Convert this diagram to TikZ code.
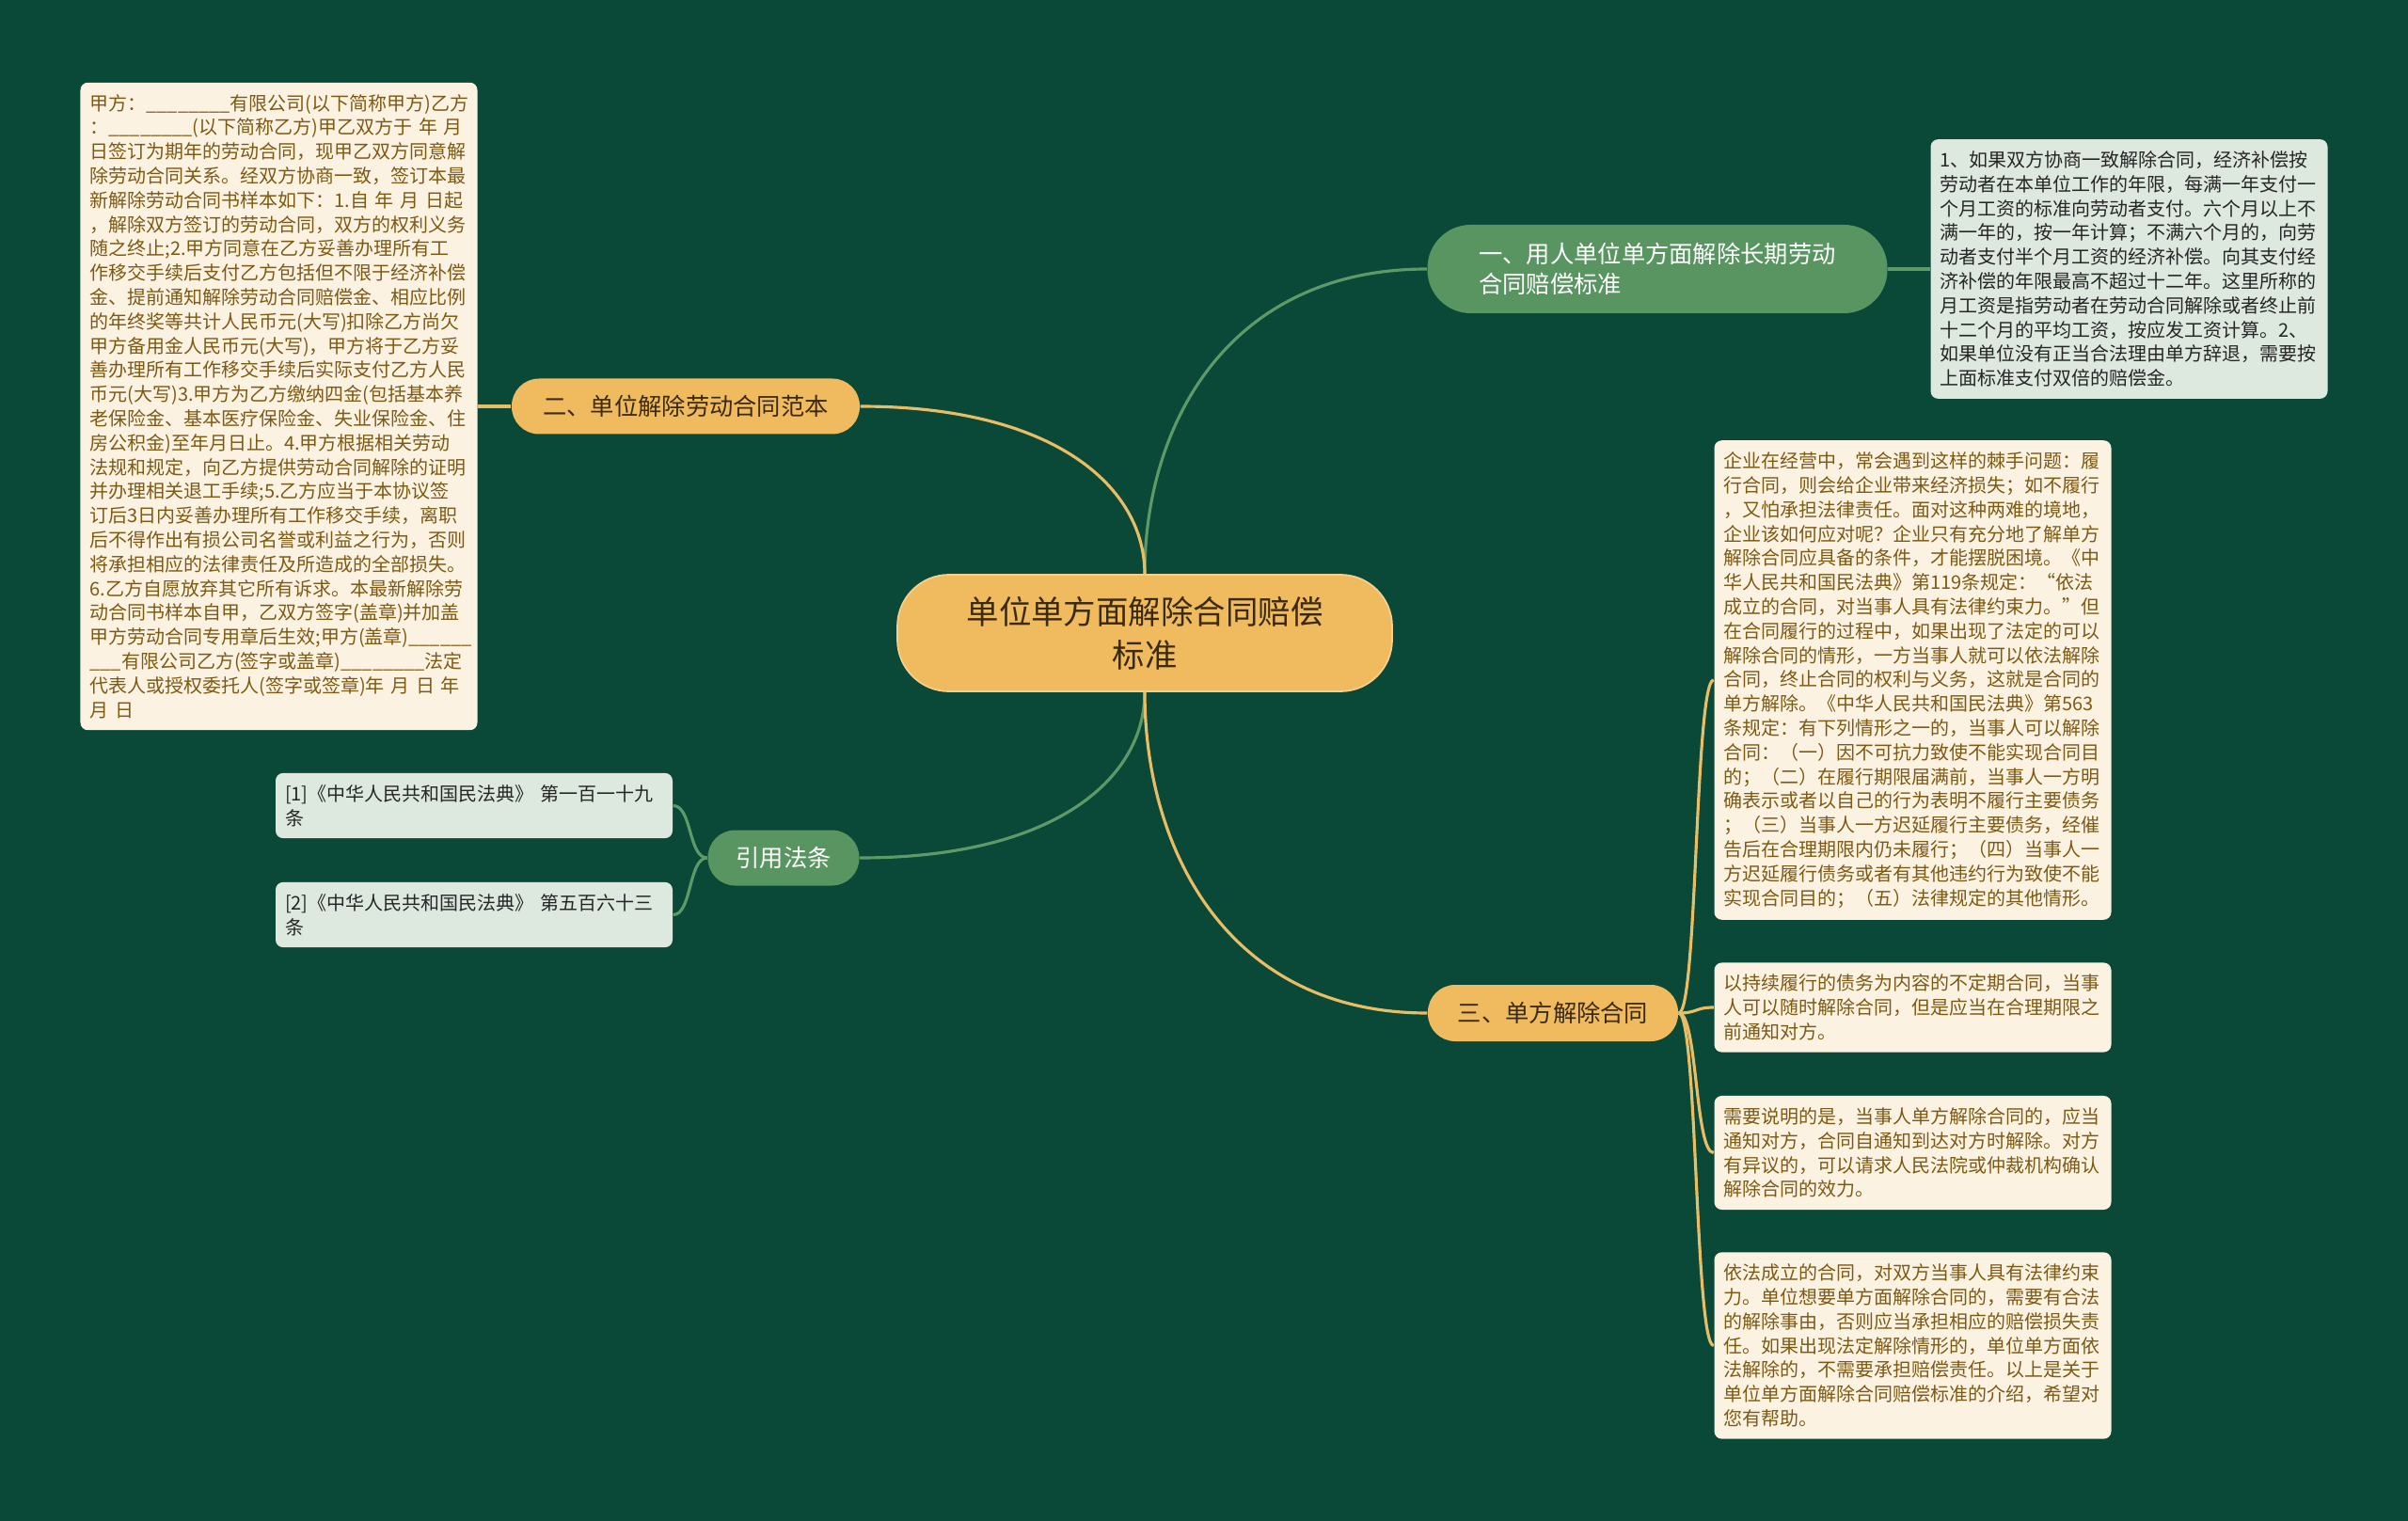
\documentclass[tikz,border=0pt]{standalone}
\usepackage{fontspec}
\newfontfamily\cjk{Noto Sans CJK SC}
\usetikzlibrary{positioning}

\definecolor{bgpaper}{HTML}{0A4838}
\definecolor{gold}{HTML}{F0BA5E}
\definecolor{goldedge}{HTML}{F4D08E}
\definecolor{goldline}{HTML}{E9BD66}
\definecolor{leafgreen}{HTML}{589561}
\definecolor{greenline}{HTML}{5E9A68}
\definecolor{cream}{HTML}{FCF2E2}
\definecolor{brownink}{HTML}{7D5A14}
\definecolor{mist}{HTML}{DDE8DF}
\definecolor{greyink}{HTML}{262626}
\definecolor{darkink}{HTML}{3A2A10}

\begin{document}
\begin{tikzpicture}[
    root/.style={fill=gold, draw=goldedge, line width=0.5pt, rounded corners=0.55cm,
        minimum width=5.26cm, minimum height=1.24cm, align=center, text=darkink,
        font=\cjk\fontsize{9.8}{13.1}\selectfont},
    goldtopic/.style={fill=gold, rounded corners=0.29cm, minimum height=0.59cm,
        text=darkink, font=\cjk\fontsize{7.2}{9.1}\selectfont},
    greentopic/.style={fill=leafgreen, rounded corners=0.29cm, minimum height=0.59cm,
        text=white, align=left, font=\cjk\fontsize{7.2}{9.1}\selectfont},
    creamleaf/.style={fill=cream, rounded corners=0.08cm, text=brownink, text width=4.02cm,
        align=left, inner xsep=0.1cm, inner ysep=0.125cm,
        font=\cjk\fontsize{5.69}{7.34}\selectfont},
    mistleaf/.style={creamleaf, fill=mist, text=greyink},
    yline/.style={draw=goldline, line width=0.9pt},
    gline/.style={draw=greenline, line width=0.9pt}
]
    \fill[bgpaper] (0,0) rectangle (25.6,-16.17);
    \useasboundingbox (0,0) rectangle (25.6,-16.17);

    % centre and main topics
    \node (root) at (12.17,-6.73) [root] {单位单方面解除合同赔偿\\标准};
    \node (std) at (17.62,-2.86) [greentopic, minimum width=4.89cm, rounded corners=0.46cm,
        minimum height=0.94cm, inner xsep=0.47cm] {一、用人单位单方面解除长期劳动\\合同赔偿标准};
    \node (sample) at (7.29,-4.32) [goldtopic, minimum width=3.70cm] {二、单位解除劳动合同范本};
    \node (cite) at (8.33,-9.12) [greentopic, minimum width=1.61cm, align=center] {引用法条};
    \node (unilat) at (16.51,-10.77) [goldtopic, minimum width=2.66cm, minimum height=0.60cm] {三、单方解除合同};

    % leaves
    \node (stdtext) at (22.635,-2.86) [mistleaf] {1、如果双方协商一致解除合同，经济补偿按\\
        劳动者在本单位工作的年限，每满一年支付一\\
        个月工资的标准向劳动者支付。六个月以上不\\
        满一年的，按一年计算；不满六个月的，向劳\\
        动者支付半个月工资的经济补偿。向其支付经\\
        济补偿的年限最高不超过十二年。这里所称的\\
        月工资是指劳动者在劳动合同解除或者终止前\\
        十二个月的平均工资，按应发工资计算。2、\\
        如果单位没有正当合法理由单方辞退，需要按\\
        上面标准支付双倍的赔偿金。};

    \node (sampletext) at (2.965,-4.32) [creamleaf] {甲方：\_\_\_\_\_\_\_\_有限公司(以下简称甲方)乙方\\
        ：\_\_\_\_\_\_\_\_(以下简称乙方)甲乙双方于~年~月\\
        日签订为期年的劳动合同，现甲乙双方同意解\\
        除劳动合同关系。经双方协商一致，签订本最\\
        新解除劳动合同书样本如下：1.自~年~月~日起\\
        ，解除双方签订的劳动合同，双方的权利义务\\
        随之终止;2.甲方同意在乙方妥善办理所有工\\
        作移交手续后支付乙方包括但不限于经济补偿\\
        金、提前通知解除劳动合同赔偿金、相应比例\\
        的年终奖等共计人民币元(大写)扣除乙方尚欠\\
        甲方备用金人民币元(大写)，甲方将于乙方妥\\
        善办理所有工作移交手续后实际支付乙方人民\\
        币元(大写)3.甲方为乙方缴纳四金(包括基本养\\
        老保险金、基本医疗保险金、失业保险金、住\\
        房公积金)至年月日止。4.甲方根据相关劳动\\
        法规和规定，向乙方提供劳动合同解除的证明\\
        并办理相关退工手续;5.乙方应当于本协议签\\
        订后3日内妥善办理所有工作移交手续，离职\\
        后不得作出有损公司名誉或利益之行为，否则\\
        将承担相应的法律责任及所造成的全部损失。\\
        6.乙方自愿放弃其它所有诉求。本最新解除劳\\
        动合同书样本自甲，乙双方签字(盖章)并加盖\\
        甲方劳动合同专用章后生效;甲方(盖章)\_\_\_\_\_\_\\
        \_\_\_有限公司乙方(签字或盖章)\_\_\_\_\_\_\_\_法定\\
        代表人或授权委托人(签字或签章)年~月~日~年\\
        月~日};

    \node (refa) at (5.04,-8.565) [mistleaf] {[1]《中华人民共和国民法典》~第一百一十九\\条};
    \node (refb) at (5.04,-9.725) [mistleaf] {[2]《中华人民共和国民法典》~第五百六十三\\条};

    \node (parta) at (20.335,-7.23) [creamleaf] {企业在经营中，常会遇到这样的棘手问题：履\\
        行合同，则会给企业带来经济损失；如不履行\\
        ，又怕承担法律责任。面对这种两难的境地，\\
        企业该如何应对呢？企业只有充分地了解单方\\
        解除合同应具备的条件，才能摆脱困境。《中\\
        华人民共和国民法典》第119条规定：“依法\\
        成立的合同，对当事人具有法律约束力。”但\\
        在合同履行的过程中，如果出现了法定的可以\\
        解除合同的情形，一方当事人就可以依法解除\\
        合同，终止合同的权利与义务，这就是合同的\\
        单方解除。《中华人民共和国民法典》第563\\
        条规定：有下列情形之一的，当事人可以解除\\
        合同：（一）因不可抗力致使不能实现合同目\\
        的；（二）在履行期限届满前，当事人一方明\\
        确表示或者以自己的行为表明不履行主要债务\\
        ；（三）当事人一方迟延履行主要债务，经催\\
        告后在合理期限内仍未履行；（四）当事人一\\
        方迟延履行债务或者有其他违约行为致使不能\\
        实现合同目的；（五）法律规定的其他情形。};
    \node (partb) at (20.335,-10.71) [creamleaf] {以持续履行的债务为内容的不定期合同，当事\\
        人可以随时解除合同，但是应当在合理期限之\\
        前通知对方。};
    \node (partc) at (20.335,-12.255) [creamleaf] {需要说明的是，当事人单方解除合同的，应当\\
        通知对方，合同自通知到达对方时解除。对方\\
        有异议的，可以请求人民法院或仲裁机构确认\\
        解除合同的效力。};
    \node (partd) at (20.335,-14.305) [creamleaf] {依法成立的合同，对双方当事人具有法律约束\\
        力。单位想要单方面解除合同的，需要有合法\\
        的解除事由，否则应当承担相应的赔偿损失责\\
        任。如果出现法定解除情形的，单位单方面依\\
        法解除的，不需要承担赔偿责任。以上是关于\\
        单位单方面解除合同赔偿标准的介绍，希望对\\
        您有帮助。};

    % connectors
    \draw[gline] (root.north) .. controls +(0,1.6) and +(-2.1,0) .. (std.west);
    \draw[yline] (root.north) .. controls +(0,0.9) and +(2.1,0) .. (sample.east);
    \draw[gline] (root.south) .. controls +(0,-0.9) and +(2.1,0) .. (cite.east);
    \draw[yline] (root.south) .. controls +(0,-1.7) and +(-2.1,0) .. (unilat.west);

    \draw[gline] (std.east) -- (stdtext.west);
    \draw[yline] (sample.west) -- (sampletext.east);
    \foreach \r in {refa,refb}
        \draw[gline] (cite.west) .. controls +(-0.2,0) and +(0.2,0) .. (\r.east);
    \foreach \p in {parta,partb,partc,partd}
        \draw[yline] (unilat.east) .. controls +(0.2,0) and +(-0.2,0) .. (\p.west);
\end{tikzpicture}
\end{document}
